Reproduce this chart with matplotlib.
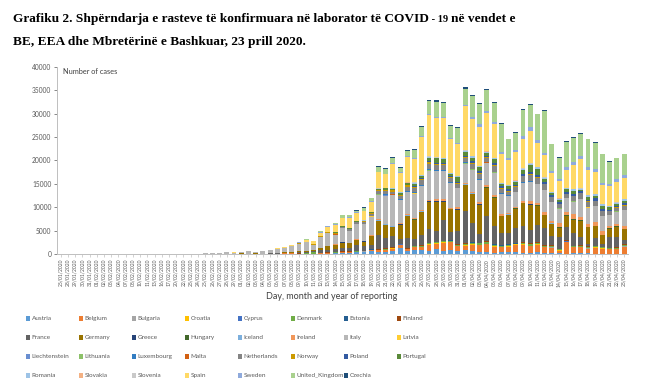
import numpy as np
import pandas as pd
import matplotlib
matplotlib.use('Agg')
import matplotlib.pyplot as plt
from matplotlib.patches import Rectangle

# stacking / legend order (same as the Excel series order)
countries = ['Austria', 'Belgium', 'Bulgaria', 'Croatia', 'Cyprus', 'Denmark', 'Estonia', 'Finland',
             'France', 'Germany', 'Greece', 'Hungary', 'Iceland', 'Ireland', 'Italy', 'Latvia',
             'Liechtenstein', 'Lithuania', 'Luxembourg', 'Malta', 'Netherlands', 'Norway', 'Poland', 'Portugal',
             'Romania', 'Slovakia', 'Slovenia', 'Spain', 'Sweden', 'United_Kingdom', 'Czechia']
colors = ['#5B9BD5', '#ED7D31', '#A5A5A5', '#FFC000', '#4472C4', '#70AD47', '#255E91', '#9E480E',
          '#636363', '#997300', '#264478', '#43682B', '#7CAFDD', '#F1975A', '#B7B7B7', '#FFCD33',
          '#698ED0', '#8CC168', '#327DC2', '#D26012', '#848484', '#CC9A00', '#335AA1', '#5A8A39',
          '#9DC3E6', '#F4B183', '#C9C9C9', '#FFD966', '#8FAADC', '#A9D18E', '#1F4E79']

# ---- 25/01 - 29/02 (only days with reports) ----
janfeb_dates = ['25/01/2020', '28/01/2020', '29/01/2020', '30/01/2020', '31/01/2020', '01/02/2020',
                '02/02/2020', '03/02/2020', '04/02/2020', '07/02/2020', '08/02/2020', '10/02/2020',
                '11/02/2020', '13/02/2020', '16/02/2020', '17/02/2020', '20/02/2020', '22/02/2020',
                '23/02/2020', '24/02/2020', '25/02/2020', '26/02/2020', '27/02/2020', '28/02/2020',
                '29/02/2020']
janfeb = {
    'France':         [3, 0, 1, 1, 0, 0, 0, 0, 0, 0, 5, 1, 0, 0, 1, 0, 0, 0, 0, 0, 2, 2, 20, 19, 43],
    'Germany':        [0, 1, 3, 0, 1, 1, 2, 2, 0, 0, 2, 0, 2, 0, 0, 0, 0, 0, 0, 0, 0, 10, 11, 26, 10],
    'Italy':          [0, 0, 0, 0, 2, 0, 0, 0, 0, 1, 0, 0, 0, 0, 0, 0, 0, 17, 60, 78, 95, 93, 78, 250, 238],
    'Spain':          [0, 0, 0, 0, 0, 1, 0, 0, 0, 0, 0, 1, 0, 0, 0, 0, 0, 0, 0, 0, 4, 7, 12, 6, 13],
    'United_Kingdom': [0, 0, 0, 0, 2, 0, 0, 0, 0, 0, 1, 4, 1, 0, 0, 0, 0, 0, 0, 0, 0, 0, 1, 4, 3],
    'Netherlands':    [0, 0, 0, 0, 0, 0, 0, 0, 0, 0, 0, 0, 0, 0, 0, 0, 0, 0, 0, 0, 0, 0, 0, 1, 1],
    'Austria':        [0, 0, 0, 0, 0, 0, 0, 0, 0, 0, 0, 0, 0, 0, 0, 0, 0, 0, 0, 0, 0, 2, 0, 3, 4],
    'Norway':         [0, 0, 0, 0, 0, 0, 0, 0, 0, 0, 0, 0, 0, 0, 0, 0, 0, 0, 0, 0, 0, 0, 1, 5, 0],
    'Sweden':         [0, 0, 0, 0, 0, 1, 0, 0, 0, 0, 0, 0, 0, 0, 0, 0, 0, 0, 0, 0, 0, 0, 1, 5, 5],
}

# ---- 01/03 - 13/03 ----
march_dates = ['01/03/2020', '02/03/2020', '03/03/2020', '04/03/2020', '05/03/2020', '06/03/2020',
               '07/03/2020', '08/03/2020', '09/03/2020', '10/03/2020', '11/03/2020', '12/03/2020',
               '13/03/2020']
march = {
    'Austria':        [5, 4, 0, 6, 12, 11, 25, 25, 33, 23, 55, 56, 56],
    'Belgium':        [1, 0, 6, 5, 10, 27, 59, 60, 31, 39, 28, 47, 85],
    'Denmark':        [0, 0, 2, 5, 10, 0, 12, 0, 17, 55, 235, 172, 142],
    'Finland':        [0, 1, 0, 0, 5, 4, 3, 7, 3, 6, 5, 19, 50],
    'France':         [43, 30, 61, 21, 73, 138, 190, 103, 410, 286, 372, 495, 591],
    'Germany':        [51, 13, 30, 38, 52, 109, 185, 150, 130, 240, 187, 430, 800],
    'Ireland':        [0, 1, 0, 4, 1, 7, 5, 2, 0, 9, 10, 9, 27],
    'Italy':          [240, 561, 347, 466, 587, 769, 778, 1247, 1492, 1797, 977, 2313, 2651],
    'Netherlands':    [5, 8, 5, 14, 44, 46, 46, 60, 77, 56, 61, 121, 111],
    'Norway':         [10, 4, 7, 10, 20, 29, 30, 66, 55, 65, 126, 202, 257],
    'Portugal':       [0, 2, 2, 2, 5, 4, 0, 0, 9, 10, 14, 41, 19],
    'Spain':          [13, 39, 36, 45, 57, 37, 141, 100, 173, 400, 622, 582, 869],
    'Sweden':         [7, 0, 1, 1, 16, 46, 38, 40, 35, 76, 11, 248, 221],
    'United_Kingdom': [12, 13, 4, 11, 34, 30, 48, 43, 67, 48, 52, 83, 134],
    'Czechia':        [0, 3, 0, 2, 0, 7, 7, 7, 14, 9, 9, 31, 22],
}

# ---- 14/03 - 23/04 (every day) ----
spring_dates = list(pd.date_range('2020-03-14', '2020-04-23').strftime('%d/%m/%Y'))
spring = {
    'Austria':        [151, 205, 158, 314, 314, 550, 453, 375, 595, 1321, 606, 855, 796, 668, 1141, 564, 805, 522, 805, 564, 418, 396, 241, 311, 329, 302, 263, 247, 312, 241, 279, 108, 78, 142, 116, 92, 75, 71, 48, 77, 82],
    'Belgium':        [85, 133, 197, 172, 185, 243, 309, 462, 558, 586, 342, 526, 668, 1298, 1049, 1850, 1702, 1063, 876, 1384, 1422, 1661, 1260, 1123, 1209, 1580, 1684, 1351, 1629, 1209, 1068, 530, 2454, 1236, 1329, 1054, 1223, 1045, 933, 973, 1487],
    'Bulgaria':       [16, 18, 10, 0, 30, 9, 21, 31, 0, 37, 33, 7, 22, 24, 27, 18, 14, 48, 20, 41, 55, 29, 22, 14, 22, 59, 29, 26, 25, 28, 38, 45, 67, 30, 23, 33, 35, 35, 40, 48, 52],
    'Croatia':        [6, 12, 5, 17, 9, 40, 14, 53, 78, 48, 52, 59, 53, 91, 71, 127, 77, 77, 96, 96, 86, 79, 77, 78, 51, 75, 65, 96, 79, 66, 28, 67, 32, 35, 37, 44, 56, 20, 32, 32, 21],
    'Cyprus':         [5, 12, 7, 6, 13, 9, 9, 8, 2, 28, 5, 14, 17, 16, 14, 17, 35, 2, 16, 58, 3, 25, 14, 6, 15, 20, 12, 21, 7, 29, 6, 21, 33, 7, 10, 16, 11, 2, 11, 24, 6],
    'Denmark':        [70, 65, 28, 33, 61, 79, 81, 104, 88, 51, 78, 137, 172, 146, 160, 149, 198, 189, 243, 266, 291, 292, 369, 224, 321, 184, 326, 390, 292, 177, 253, 196, 122, 145, 143, 208, 184, 196, 155, 124, 246],
    'Estonia':        [38, 36, 26, 53, 20, 25, 19, 40, 23, 64, 27, 4, 36, 71, 59, 50, 56, 67, 100, 34, 35, 64, 42, 89, 67, 62, 32, 34, 68, 10, 22, 39, 60, 46, 29, 51, 29, 53, 47, 27, 25],
    'Finland':        [46, 47, 84, 29, 54, 52, 141, 88, 69, 83, 80, 76, 88, 78, 93, 85, 99, 113, 133, 135, 124, 214, 156, 122, 210, 120, 184, 185, 174, 183, 104, 68, 109, 107, 121, 219, 111, 66, 89, 90, 113],
    'France':         [600, 700, 700, 1220, 900, 1000, 3000, 2300, 2440, 1000, 2100, 1500, 2100, 3040, 2300, 4370, 1800, 2750, 7000, 4100, 1900, 5300, 3870, 2500, 2240, 3200, 3270, 2850, 3500, 3530, 2110, 2470, 2700, 2640, 1890, 400, 1710, 690, 2250, 2170, 920],
    'Germany':        [910, 1210, 1100, 1144, 1042, 1800, 2958, 2705, 1948, 3000, 4764, 4118, 4954, 5780, 6294, 3965, 4751, 4615, 5453, 6156, 6174, 6082, 5936, 3677, 3834, 4003, 4974, 5323, 4133, 2821, 2537, 2082, 2486, 2866, 3380, 3609, 2458, 1775, 1785, 2237, 2352],
    'Greece':         [38, 62, 38, 21, 60, 31, 77, 100, 35, 94, 71, 48, 78, 71, 94, 95, 73, 102, 60, 29, 101, 71, 60, 29, 39, 40, 40, 56, 13, 22, 25, 15, 32, 20, 26, 5, 9, 0, 2, 17, 23],
    'Hungary':        [11, 0, 7, 11, 11, 8, 15, 18, 19, 36, 20, 39, 35, 36, 43, 67, 39, 53, 45, 60, 38, 85, 55, 11, 73, 78, 85, 111, 210, 73, 32, 48, 60, 151, 77, 96, 45, 49, 103, 117, 68],
    'Iceland':        [28, 15, 24, 20, 31, 81, 79, 80, 77, 79, 97, 89, 88, 64, 70, 61, 57, 73, 99, 88, 63, 73, 62, 23, 40, 35, 30, 35, 14, 5, 14, 3, 10, 14, 5, 10, 3, 7, 4, 2, 9],
    'Ireland':        [20, 39, 40, 77, 69, 74, 191, 126, 102, 121, 219, 204, 235, 255, 302, 294, 200, 295, 325, 212, 402, 424, 390, 331, 370, 365, 345, 500, 480, 553, 430, 832, 657, 1068, 724, 597, 778, 992, 493, 388, 631],
    'Italy':          [2100, 2950, 2500, 3233, 3526, 4000, 5322, 5986, 6557, 5000, 4789, 5249, 5210, 6153, 5959, 5974, 5217, 4050, 4053, 4782, 4668, 4585, 4805, 4316, 3599, 3039, 3836, 4204, 3951, 4694, 4092, 3153, 2972, 2667, 3786, 3493, 3491, 3047, 2256, 2729, 3370],
    'Latvia':         [4, 4, 7, 8, 9, 12, 18, 13, 20, 11, 12, 24, 24, 41, 24, 25, 26, 29, 19, 20, 12, 13, 30, 12, 17, 9, 6, 9, 21, 25, 13, 26, 8, 1, 1, 9, 12, 22, 7, 9, 16],
    'Liechtenstein':  [0, 0, 0, 3, 0, 0, 0, 21, 0, 0, 4, 5, 0, 10, 0, 0, 6, 0, 0, 3, 3, 0, 0, 2, 0, 0, 2, 3, 0, 0, 0, 1, 0, 1, 0, 0, 0, 0, 0, 1, 0],
    'Lithuania':      [6, 0, 1, 4, 10, 10, 14, 35, 19, 26, 38, 34, 55, 59, 74, 24, 22, 23, 102, 44, 63, 38, 47, 31, 32, 31, 61, 45, 68, 44, 22, 47, 29, 68, 51, 38, 23, 26, 22, 64, 30],
    'Luxembourg':     [17, 25, 18, 59, 63, 130, 135, 186, 72, 183, 200, 224, 145, 190, 152, 129, 181, 102, 149, 100, 171, 133, 154, 126, 107, 105, 106, 131, 57, 51, 42, 44, 101, 17, 39, 65, 29, 44, 81, 45, 17],
    'Malta':          [9, 3, 17, 6, 11, 5, 11, 9, 20, 17, 10, 19, 11, 10, 17, 12, 5, 5, 14, 8, 21, 10, 8, 14, 4, 6, 12, 1, 3, 14, 6, 8, 6, 4, 13, 5, 6, 4, 9, 3, 1],
    'Netherlands':    [155, 176, 278, 292, 346, 409, 534, 637, 573, 545, 811, 852, 1019, 1172, 1159, 1104, 884, 845, 1019, 1083, 1026, 904, 1224, 952, 777, 969, 1213, 1335, 1316, 1174, 1092, 868, 734, 1061, 1235, 1140, 1066, 964, 750, 729, 887],
    'Norway':         [207, 108, 110, 94, 182, 189, 245, 255, 286, 213, 328, 200, 238, 371, 183, 238, 185, 208, 185, 175, 214, 217, 183, 135, 111, 183, 173, 110, 86, 106, 72, 79, 40, 124, 80, 80, 54, 56, 84, 56, 70],
    'Poland':         [35, 39, 27, 27, 51, 49, 69, 111, 98, 115, 152, 150, 170, 168, 249, 224, 193, 256, 243, 392, 437, 244, 475, 311, 435, 325, 357, 370, 380, 401, 318, 268, 380, 336, 370, 263, 545, 461, 263, 313, 381],
    'Portugal':       [34, 57, 86, 117, 133, 194, 235, 260, 320, 460, 302, 633, 549, 724, 902, 792, 446, 1035, 808, 783, 852, 638, 754, 452, 712, 699, 815, 1516, 1460, 598, 349, 514, 643, 750, 181, 663, 521, 657, 516, 371, 603],
    'Romania':        [25, 36, 29, 16, 60, 31, 31, 90, 66, 143, 143, 186, 144, 263, 160, 293, 308, 153, 186, 255, 250, 343, 308, 258, 176, 193, 307, 360, 323, 269, 350, 301, 265, 296, 266, 334, 300, 302, 305, 319, 341],
    'Slovakia':       [11, 12, 29, 9, 33, 18, 14, 41, 7, 5, 19, 12, 12, 23, 22, 21, 22, 27, 55, 18, 12, 41, 34, 44, 37, 34, 53, 24, 6, 23, 41, 45, 20, 56, 48, 99, 51, 63, 49, 24, 30],
    'Slovenia':       [40, 35, 8, 34, 16, 23, 11, 23, 89, 30, 59, 48, 34, 66, 52, 46, 16, 32, 46, 21, 19, 23, 22, 40, 28, 12, 14, 25, 22, 16, 6, 21, 8, 26, 35, 15, 14, 9, 8, 20, 4],
    'Spain':          [1500, 1640, 2060, 1780, 1920, 2000, 3490, 2850, 5130, 4060, 5340, 5000, 8120, 8760, 8330, 8400, 7120, 6760, 9470, 7970, 8400, 8190, 7120, 6190, 5340, 6050, 6410, 6980, 5200, 4770, 4060, 3770, 3920, 5200, 6410, 5340, 4770, 4060, 4130, 4490, 4410],
    'Sweden':         [155, 86, 202, 105, 90, 157, 142, 126, 108, 267, 175, 237, 239, 347, 250, 297, 250, 317, 333, 519, 486, 466, 512, 378, 391, 401, 477, 726, 544, 466, 332, 465, 497, 482, 613, 676, 606, 563, 392, 545, 682],
    'United_Kingdom': [200, 500, 570, 350, 570, 700, 1070, 1070, 1210, 710, 1140, 1710, 1850, 2780, 3280, 3060, 2490, 3060, 3420, 4490, 4270, 4490, 4060, 6120, 3920, 3700, 5700, 4770, 5480, 9040, 5700, 4490, 5480, 5200, 4700, 5910, 5550, 6120, 4910, 4490, 4490],
    'Czechia':        [32, 71, 45, 75, 135, 127, 193, 106, 188, 237, 215, 190, 259, 265, 363, 180, 346, 237, 260, 212, 215, 204, 196, 136, 178, 267, 217, 174, 188, 106, 90, 106, 122, 144, 123, 73, 101, 48, 139, 50, 83],
}

df = pd.concat([pd.DataFrame(janfeb, index=janfeb_dates),
                pd.DataFrame(march, index=march_dates),
                pd.DataFrame(spring, index=spring_dates)])
df = df.reindex(columns=countries).fillna(0)

plt.rcParams['font.family'] = ['Lato', 'DejaVu Sans']
fig = plt.figure(figsize=(6.5, 3.9), dpi=100)
ax = fig.add_axes([0.0877, 0.349, 0.878, 0.479])

x = np.arange(len(df))
bottom = np.zeros(len(df))
for c, col in zip(countries, colors):
    ax.bar(x, df[c].values, bottom=bottom, color=col, width=0.68, linewidth=0)
    bottom += df[c].values

ax.set_xlim(-0.5, len(df) - 0.5)
ax.set_ylim(0, 40000)
ax.set_yticks(np.arange(0, 40001, 5000))
ax.tick_params(axis='y', labelsize=4.8, colors='#595959', length=2, width=0.5, pad=2)
ax.set_xticks(x)
ax.set_xticklabels(df.index, rotation=90, fontsize=3.6, color='#595959')
ax.tick_params(axis='x', length=2, width=0.5, pad=1.5, color='#BFBFBF')
for s in ['top', 'right']:
    ax.spines[s].set_visible(False)
ax.spines['left'].set_color('#BFBFBF')
ax.spines['bottom'].set_color('#BFBFBF')
ax.spines['left'].set_linewidth(0.7)
ax.spines['bottom'].set_linewidth(0.7)

ax.text(0.01, 0.995, 'Number of cases', transform=ax.transAxes, fontsize=5.3,
        color='#404040', va='top', ha='left')
fig.text(0.51, 0.241, 'Day, month and year of reporting', fontsize=6.5,
         color='#404040', ha='center', va='center')

# title, first line in three pieces ("- 19" is set smaller in the original)
renderer = fig.canvas.get_renderer()
title_kw = dict(fontweight='bold', family='Liberation Serif', ha='left', va='baseline')
parts = [('Grafiku 2. Shpërndarja e rasteve të konfirmuara në laborator të COVID', 9.6),
         (' - 19 ', 7.5),
         ('në vendet e', 9.6)]
tx = 0.02
for s, fs in parts:
    t = fig.text(tx, 0.944, s, fontsize=fs, **title_kw)
    bb = t.get_window_extent(renderer)
    tx = bb.x1 / fig.bbox.width
fig.text(0.02, 0.885, 'BE, EEA dhe Mbretërinë e Bashkuar, 23 prill 2020.', fontsize=9.6, **title_kw)

# legend: 8 columns, filled row by row
for i, (c, col) in enumerate(zip(countries, colors)):
    r, k = divmod(i, 8)
    lx = 0.0395 + k * 0.0815
    ly = 0.183 - r * 0.0487
    fig.patches.append(Rectangle((lx, ly - 0.0065), 0.0062, 0.013, transform=fig.transFigure,
                                 facecolor=col, edgecolor='none'))
    fig.text(lx + 0.009, ly, c, fontsize=4.6, color='#595959', ha='left', va='center')

fig.savefig('out.png', dpi=100, facecolor='white')
